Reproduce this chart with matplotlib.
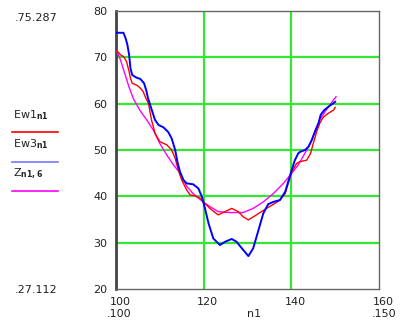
import matplotlib
matplotlib.use('Agg')
import matplotlib.pyplot as plt
import matplotlib.transforms as mtransforms

# Ew3 (blue)
ew3_x = [100.0, 101.7, 102.2, 102.6, 103.0, 103.3, 103.7, 104.5, 105.6, 106.4,
         106.9, 107.3, 107.8, 108.9, 109.7, 110.8, 111.9, 112.7, 113.5, 114.0,
         114.6, 115.4, 116.1, 117.6, 118.8, 119.6, 120.3, 121.1, 122.2, 123.7,
         124.9, 126.4, 127.5, 128.7, 130.2, 131.3, 132.5, 133.6, 134.7, 135.9,
         137.4, 138.6, 139.3, 140.1, 140.8, 141.6, 142.0, 143.1, 143.9, 144.7,
         145.4, 146.2, 146.7, 147.5, 148.4, 149.6, 150.0]
ew3_y = [75.3, 75.3, 74.1, 72.7, 70.5, 67.6, 66.2, 65.7, 65.3, 64.4,
         62.9, 61.2, 59.7, 56.5, 55.4, 54.9, 53.9, 52.5, 50.0, 47.5,
         45.3, 43.5, 42.8, 42.6, 41.7, 39.9, 37.4, 34.2, 30.9, 29.5,
         30.2, 30.8, 30.2, 28.8, 27.1, 28.8, 32.7, 36.3, 38.3, 38.8,
         39.2, 41.0, 43.2, 45.7, 47.8, 49.3, 49.6, 50.0, 50.7, 52.2,
         54.0, 55.8, 57.6, 58.6, 59.3, 60.1, 60.4]

# Ew1 (red)
ew1_x = [100.2, 101.1, 101.8, 102.4, 103.0, 103.3, 103.7, 104.9, 105.6, 106.2,
         106.8, 107.4, 108.1, 108.9, 110.0, 111.6, 112.7, 113.5, 114.2, 115.0,
         116.1, 116.9, 118.0, 119.2, 120.3, 121.4, 123.3, 124.9, 126.4, 127.9,
         129.0, 130.2, 131.7, 133.2, 134.7, 136.3, 137.4, 138.6, 139.3, 140.1,
         141.2, 142.0, 143.5, 144.4, 145.0, 145.8, 146.5, 147.3, 148.4, 149.6,
         150.0]
ew1_y = [71.4, 70.5, 70.1, 69.1, 66.9, 65.5, 64.4, 63.9, 63.3, 62.6,
         61.2, 60.1, 56.5, 53.6, 51.8, 51.1, 50.0, 48.2, 45.7, 43.5,
         41.4, 40.3, 40.1, 39.6, 38.5, 37.4, 36.0, 36.7, 37.4, 36.7,
         35.6, 34.9, 35.8, 36.7, 37.6, 38.5, 39.2, 40.6, 42.8, 45.3,
         47.1, 47.5, 47.8, 49.3, 51.4, 54.0, 55.8, 57.1, 57.9, 58.6,
         59.2]

# Z column 6 (magenta)
z_x = [100.2, 101.0, 102.0, 103.0, 104.0, 105.5, 107.0, 108.5, 110.0, 111.6,
       113.1, 114.6, 116.1, 117.6, 119.2, 120.3, 121.4, 123.3, 126.0, 129.0,
       131.3, 133.6, 135.9, 138.2, 140.1, 141.6, 143.1, 144.3, 145.4, 146.5,
       147.7, 148.8, 149.6, 150.2]
z_y = [71.4, 69.5, 66.5, 63.5, 61.0, 58.5, 56.5, 54.3, 51.4, 48.9,
       46.8, 45.0, 42.2, 40.6, 39.3, 38.5, 37.8, 36.7, 36.5, 36.5,
       37.4, 38.8, 40.6, 42.8, 45.0, 46.8, 49.3, 51.4, 54.0, 56.5,
       58.3, 59.7, 60.8, 61.5]

x_ticks = [100, 120, 140, 160]
y_ticks = [20, 30, 40, 50, 60, 70, 80]

W, H = 406, 322
fig = plt.figure(figsize=(W / 100, H / 100), dpi=100)
ax = fig.add_axes([116 / W, 1 - 289 / H, 263 / W, 278 / H])

grid_col = '#33e633'
for gx in [120, 140]:
    ax.axvline(gx, color=grid_col, lw=1.6, zorder=1)
for gy in [30, 40, 50, 60, 70]:
    ax.axhline(gy, color=grid_col, lw=1.6, zorder=1)

ax.plot(z_x, z_y, color='#ff00ff', lw=1.0, zorder=3)
ax.plot(ew1_x, ew1_y, color='#ff0000', lw=1.0, zorder=4)
ax.plot(ew3_x, ew3_y, color='#0000ff', lw=1.4, zorder=5)

ax.set_xlim(100, 160)
ax.set_ylim(20, 80)
ax.set_xticks(x_ticks)
ax.set_yticks(y_ticks)
ax.tick_params(length=0, labelsize=8, colors='#222222')
ax.tick_params(axis='x', pad=6)
ax.tick_params(axis='y', pad=6)
offset = mtransforms.ScaledTranslation(4 / 100, 0, fig.dpi_scale_trans)
for lab in ax.get_xticklabels():
    lab.set_transform(lab.get_transform() + offset)

ax.spines['left'].set_color('#444444')
ax.spines['left'].set_linewidth(2.0)
for s in ['bottom', 'right', 'top']:
    ax.spines[s].set_color('#666666')
    ax.spines[s].set_linewidth(1.0)


def px(x, y):
    return x / W, 1 - y / H


fs = 8
fig.text(*px(15, 18), '.75.287', fontsize=fs, va='center', ha='left', color='#222222')
fig.text(*px(15, 290), '.27.112', fontsize=fs, va='center', ha='left', color='#222222')
fig.text(*px(107, 314), '.100', fontsize=fs, va='center', ha='left', color='#222222')
fig.text(*px(372, 314), '.150', fontsize=fs, va='center', ha='left', color='#222222')
fig.text(*px(254, 314), 'n1', fontsize=fs, va='center', ha='center', color='#222222')

labels = [r'Ew1$_{\mathbf{n1}}$', r'Ew3$_{\mathbf{n1}}$', r'Z$_{\mathbf{n1,6}}$']
colors = ['#ff0000', '#7777ff', '#ff00ff']
text_y = [115, 144, 174]
line_y = [132, 162, 191]
for lab, c, ty, ly in zip(labels, colors, text_y, line_y):
    fig.text(*px(13, ty), lab, fontsize=fs, va='center', ha='left', color='#222222')
    fig.add_artist(plt.Line2D([12 / W, 58 / W], [1 - ly / H, 1 - ly / H],
                              color=c, lw=1.2, transform=fig.transFigure))

fig.savefig('out.png', dpi=100)
